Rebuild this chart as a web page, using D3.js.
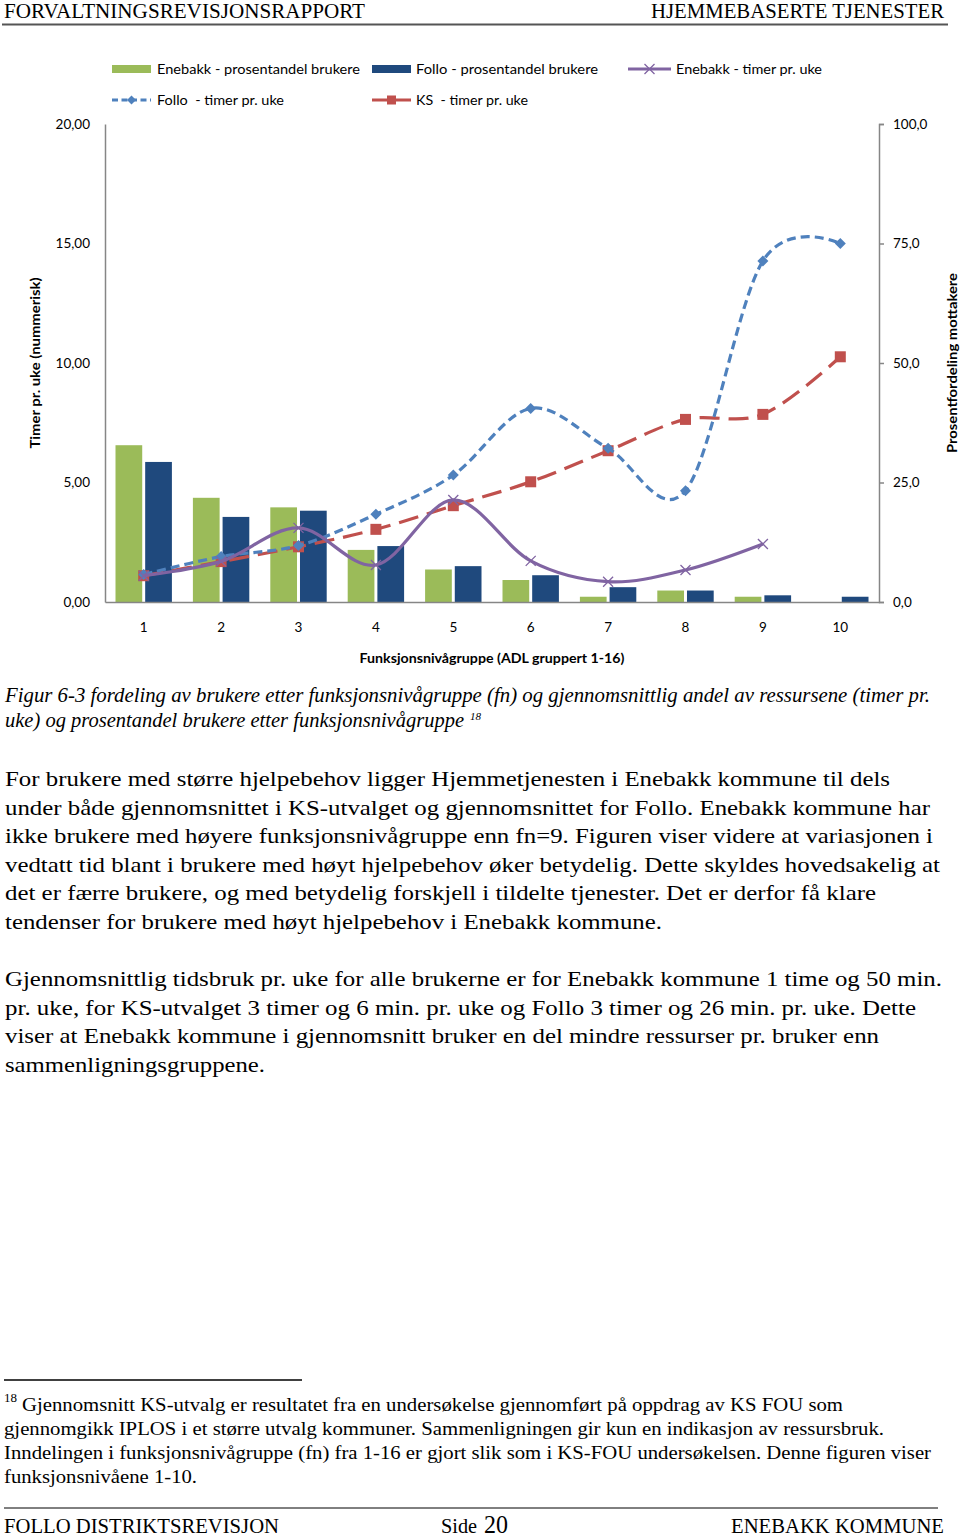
<!DOCTYPE html>
<html><head><meta charset="utf-8">
<script src="https://cdn.jsdelivr.net/npm/d3@7"></script>
<style>body{margin:0;background:#fff} svg{display:block}</style>
</head><body><svg id="c" width="960" height="1538"></svg>
<script>
// ---------- data ----------
const categories = [1,2,3,4,5,6,7,8,9,10];
const enebakkPct = [32.8, 21.8, 19.8, 10.9, 6.8, 4.6, 1.1, 2.4, 1.1, 0];
const folloPct   = [29.3, 17.8, 19.1, 11.7, 7.5, 5.6, 3.1, 2.4, 1.4, 1.1];
const enebakkTimer = [1.1, 1.7, 3.1, 1.55, 4.27, 1.72, 0.85, 1.34, 2.43, null];
const folloTimer   = [1.15, 1.9, 2.36, 3.67, 5.31, 8.1, 6.43, 4.66, 14.27, 15.0];
const ksTimer      = [1.1, 1.69, 2.31, 3.04, 4.03, 5.03, 6.33, 7.64, 7.85, 10.26];
const leftTicks = [0,5,10,15,20];
const rightTicks = [0,25,50,75,100];
const legendLabels = ["Enebakk - prosentandel brukere","Follo - prosentandel brukere","Enebakk - timer pr. uke","Follo  - timer pr. uke","KS  - timer pr. uke"];

const C = {green:"#9BBB59", navy:"#1F497D", purple:"#8064A2", blue:"#4F81BD", red:"#C0504D", axis:"#868686"};
const chartFont = "Lato, 'Open Sans', sans-serif";
const serif = "'Liberation Serif','Times New Roman',serif";

const svg = d3.select("#c");
svg.append("rect").attr("width",960).attr("height",1538).attr("fill","#fff");

// ---------- header ----------
function stext(x,y,txt,size,len,opts={}) {
  const t = svg.append("text").attr("x",x).attr("y",y).text(txt)
    .attr("font-family",serif).attr("font-size",size).attr("fill","#000");
  if (len) t.attr("textLength",len).attr("lengthAdjust","spacingAndGlyphs");
  if (opts.italic) t.attr("font-style","italic");
  if (opts.anchor) t.attr("text-anchor",opts.anchor);
  return t;
}
stext(4,18,"FORVALTNINGSREVISJONSRAPPORT",21,361);
stext(651,18,"HJEMMEBASERTE TJENESTER",21,293);
svg.append("line").attr("x1",2).attr("x2",948).attr("y1",24.5).attr("y2",24.5).attr("stroke","#555").attr("stroke-width",2);

// ---------- chart ----------
const L=105, R=879, T=124, B=602;
const x = d3.scaleBand().domain(categories).range([L,R]).padding(0);
const yL = d3.scaleLinear().domain([0,20]).range([B,T]);
const yR = d3.scaleLinear().domain([0,100]).range([B,T]);
const xs = d3.scaleBand().domain(["en","fo"]).range([10.5, x.bandwidth()-10.5]).paddingInner(0.1);

const g = svg.append("g");
// bars
const barSeries = [{k:"en",vals:enebakkPct,c:C.green},{k:"fo",vals:folloPct,c:C.navy}];
barSeries.forEach(s=>{
  g.selectAll(null).data(categories).enter().append("rect")
    .attr("x",(d,i)=>x(d)+xs(s.k)).attr("width",xs.bandwidth())
    .attr("y",(d,i)=>yR(s.vals[i])).attr("height",(d,i)=>B-yR(s.vals[i]))
    .attr("fill",s.c);
});

// axes
const comma = f => d => d3.format(f)(d).replace(".",",");
const axL = g.append("g").attr("transform",`translate(${L},0)`)
  .call(d3.axisLeft(yL).tickValues(leftTicks).tickFormat(comma(".2f")).tickSize(0).tickPadding(15));
const axR = g.append("g").attr("transform",`translate(${R},0)`)
  .call(d3.axisRight(yR).tickValues(rightTicks).tickFormat(comma(".1f")).tickSize(5).tickPadding(9));
const axB = g.append("g").attr("transform",`translate(0,${B})`)
  .call(d3.axisBottom(x).tickSize(0).tickPadding(20));
[axL,axR,axB].forEach(a=>{
  a.selectAll("path,line").attr("stroke",C.axis).attr("stroke-width",1.5);
  a.selectAll("text").attr("font-family",chartFont).attr("font-size",13.5).attr("fill","#000");
});

// lines
const cx = d => x(d)+x.bandwidth()/2;
const lineGen = vals => d3.line().defined((d,i)=>vals[i]!=null)
  .x(d=>cx(d)).y((d,i)=>yL(vals[i])).curve(d3.curveCardinal.tension(0));
const lineSeries = [
  {vals:ksTimer, c:C.red, dash:"20,9", m:"square"},
  {vals:folloTimer, c:C.blue, dash:"9,5", m:"diamond"},
  {vals:enebakkTimer, c:C.purple, dash:null, m:"x"}
];
function marker(sel, type, c, px, py, s) {
  if (type==="square") sel.append("rect").attr("x",px-s/2).attr("y",py-s/2).attr("width",s).attr("height",s).attr("fill",c);
  else if (type==="diamond") sel.append("path").attr("d",`M${px},${py-s/2}L${px+s/2},${py}L${px},${py+s/2}L${px-s/2},${py}Z`).attr("fill",c);
  else sel.append("path").attr("d",`M${px-s/2},${py-s/2}L${px+s/2},${py+s/2}M${px-s/2},${py+s/2}L${px+s/2},${py-s/2}`).attr("stroke",c).attr("stroke-width",1.3).attr("fill","none");
}
lineSeries.forEach(s=>{
  const p = g.append("path").datum(categories).attr("d",lineGen(s.vals))
    .attr("fill","none").attr("stroke",s.c).attr("stroke-width",3.2);
  if (s.dash) p.attr("stroke-dasharray",s.dash);
  categories.forEach((d,i)=>{
    if (s.vals[i]==null) return;
    marker(g, s.m, s.c, cx(d), yL(s.vals[i]), s.m==="diamond"?11:(s.m==="square"?11:10));
  });
});

// axis titles
function ctext(sel, txt, len) {
  return sel.attr("font-family",chartFont).attr("font-size",14).attr("font-weight","bold")
    .attr("text-anchor","middle").attr("textLength",len).attr("lengthAdjust","spacingAndGlyphs").text(txt);
}
ctext(g.append("text").attr("transform",`translate(40,363) rotate(-90)`),"Timer pr. uke (nummerisk)",171);
ctext(g.append("text").attr("transform",`translate(957,363) rotate(-90)`),"Prosentfordeling mottakere",180);
ctext(g.append("text").attr("x",492).attr("y",663),"Funksjonsnivågruppe (ADL gruppert 1-16)",265);

// legend
const leg = [
  {t:legendLabels[0], x:112, y:69, type:"bar", c:C.green, tx:157, w:203, lw:39},
  {t:legendLabels[1], x:372, y:69, type:"bar", c:C.navy, tx:416, w:182, lw:39},
  {t:legendLabels[2], x:628, y:69, type:"line", c:C.purple, m:"x", tx:676, w:146, lw:43},
  {t:legendLabels[3], x:112, y:100, type:"line", c:C.blue, m:"diamond", dash:"6,3.5", tx:157, w:127, lw:39},
  {t:legendLabels[4], x:372, y:100, type:"line", c:C.red, m:"square", tx:416, w:112, lw:39}
];
leg.forEach(l=>{
  if (l.type==="bar") g.append("rect").attr("x",l.x).attr("y",l.y-4).attr("width",l.lw).attr("height",8).attr("fill",l.c);
  else {
    const ln = g.append("line").attr("x1",l.x).attr("x2",l.x+l.lw).attr("y1",l.y).attr("y2",l.y).attr("stroke",l.c).attr("stroke-width",3);
    if (l.dash) ln.attr("stroke-dasharray",l.dash);
    marker(g,l.m,l.c,l.x+l.lw/2,l.y,l.m==="x"?10:9);
  }
  g.append("text").attr("x",l.tx).attr("y",l.y+5)
    .attr("font-family",chartFont).attr("font-size",14).attr("xml:space","preserve")
    .attr("textLength",l.w).attr("lengthAdjust","spacingAndGlyphs").text(l.t);
});

// ---------- caption ----------
stext(5,702,"Figur 6-3 fordeling av brukere etter funksjonsnivågruppe (fn) og gjennomsnittlig andel av ressursene (timer pr.",21,925,{italic:true});
const cap2 = svg.append("text").attr("x",5).attr("y",727).attr("font-family",serif).attr("font-size",21).attr("font-style","italic").attr("fill","#000");
cap2.append("tspan").attr("textLength",459).attr("lengthAdjust","spacingAndGlyphs").text("uke) og prosentandel brukere etter funksjonsnivågruppe");
cap2.append("tspan").attr("x",470).attr("dy",-7).attr("font-size",11).text("18");

// ---------- body ----------
const para1 = [
 ["For brukere med større hjelpebehov ligger Hjemmetjenesten i Enebakk kommune til dels",885],
 ["under både gjennomsnittet i KS-utvalget og gjennomsnittet for Follo. Enebakk kommune har",925],
 ["ikke brukere med høyere funksjonsnivågruppe enn fn=9. Figuren viser videre at variasjonen i",928],
 ["vedtatt tid blant i brukere med høyt hjelpebehov øker betydelig. Dette skyldes hovedsakelig at",935],
 ["det er færre brukere, og med betydelig forskjell i tildelte tjenester. Det er derfor få klare",871],
 ["tendenser for brukere med høyt hjelpebehov i Enebakk kommune.",657]
];
para1.forEach((l,i)=>stext(5,786+i*28.6,l[0],22,l[1]));
const para2 = [
 ["Gjennomsnittlig tidsbruk pr. uke for alle brukerne er for Enebakk kommune 1 time og 50 min.",937],
 ["pr. uke, for KS-utvalget 3 timer og 6 min. pr. uke og Follo 3 timer og 26 min. pr. uke. Dette",911],
 ["viser at Enebakk kommune i gjennomsnitt bruker en del mindre ressurser pr. bruker enn",874],
 ["sammenligningsgruppene.",260]
];
para2.forEach((l,i)=>stext(5,986+i*28.6,l[0],22,l[1]));

// ---------- footnote ----------
svg.append("line").attr("x1",4).attr("x2",302).attr("y1",1380).attr("y2",1380).attr("stroke","#000").attr("stroke-width",1.3);
stext(4,1402,"18",12,13);
const fn = [
 [22,"Gjennomsnitt KS-utvalg er resultatet fra en undersøkelse gjennomført på oppdrag av KS FOU som",821],
 [4,"gjennomgikk IPLOS i et større utvalg kommuner. Sammenligningen gir kun en indikasjon av ressursbruk.",880],
 [4,"Inndelingen i funksjonsnivågruppe (fn) fra 1-16 er gjort slik som i KS-FOU undersøkelsen. Denne figuren viser",927],
 [4,"funksjonsnivåene 1-10.",193]
];
fn.forEach((l,i)=>stext(l[0],1411+i*24,l[1],19,l[2]));

// ---------- footer ----------
svg.append("line").attr("x1",4).attr("x2",938).attr("y1",1508).attr("y2",1508).attr("stroke","#000").attr("stroke-width",1);
stext(4,1533,"FOLLO DISTRIKTSREVISJON",20,275);
stext(441,1533,"Side",20,36);
stext(484,1533,"20",25,24);
stext(731,1533,"ENEBAKK KOMMUNE",20,213);
</script></body></html>
